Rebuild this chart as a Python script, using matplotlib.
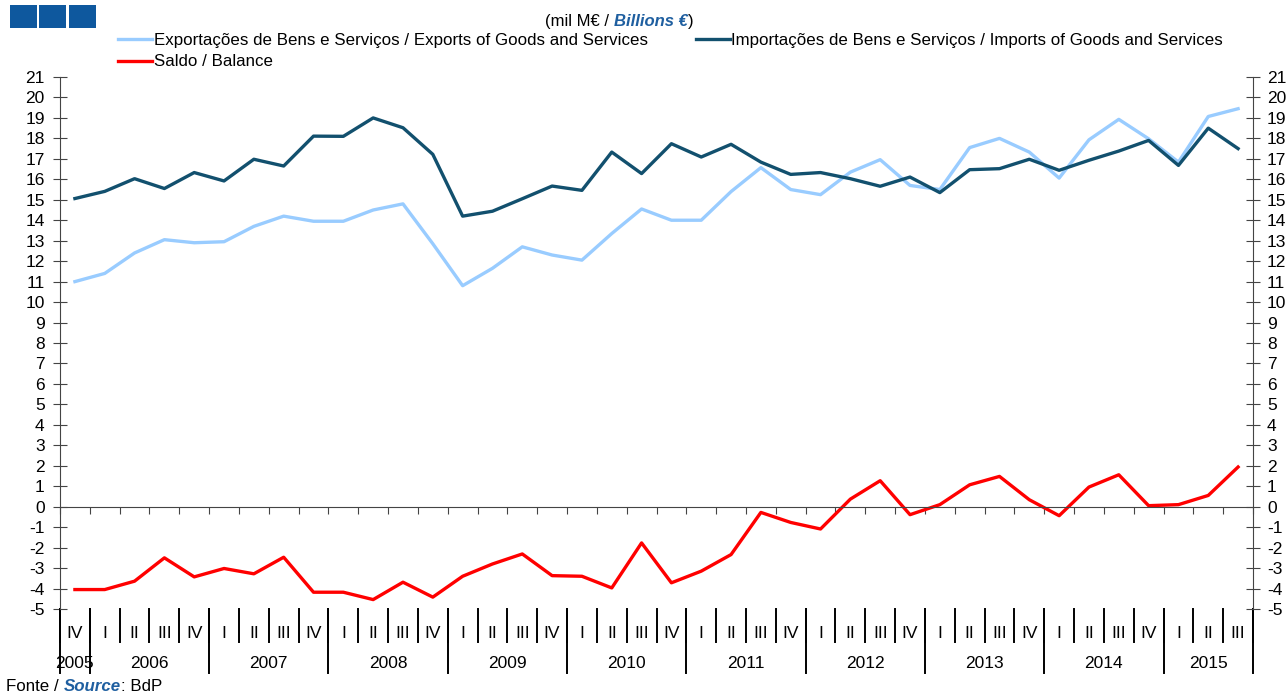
import matplotlib
matplotlib.use("Agg")
import matplotlib.pyplot as plt
import matplotlib.transforms as mtransforms
from matplotlib.patches import Rectangle
import numpy as np

plt.rcParams['font.family'] = ['Liberation Sans', 'DejaVu Sans']
plt.rcParams['axes.unicode_minus'] = False

# quarters 2005 IV .. 2015 III
quarters = ['IV'] + ['I', 'II', 'III', 'IV'] * 9 + ['I', 'II', 'III']
years = ['2005', '2006', '2007', '2008', '2009', '2010',
         '2011', '2012', '2013', '2014', '2015']
year_quarters = [1, 4, 4, 4, 4, 4, 4, 4, 4, 4, 3]

exports = [11.0, 11.4, 12.4, 13.05, 12.9, 12.95, 13.7, 14.2, 13.95, 13.95,
           14.5, 14.8, 12.85, 10.8, 11.65, 12.7, 12.3, 12.05, 13.35, 14.55,
           14.0, 14.0, 15.4, 16.57, 15.5, 15.25, 16.35, 16.96, 15.7, 15.5,
           17.55, 18.0, 17.33, 16.06, 17.93, 18.93, 17.98, 16.84, 19.07, 19.45]
imports = [15.06, 15.41, 16.03, 15.55, 16.33, 15.92, 16.98, 16.65, 18.11, 18.1,
           19.0, 18.52, 17.22, 14.2, 14.44, 15.05, 15.67, 15.46, 17.33, 16.28,
           17.74, 17.09, 17.71, 16.84, 16.24, 16.33, 16.03, 15.66, 16.11, 15.35,
           16.47, 16.52, 16.98, 16.44, 16.93, 17.38, 17.9, 16.68, 18.5, 17.5]
balance = [-4.05, -4.05, -3.64, -2.5, -3.43, -3.02, -3.28, -2.47, -4.18, -4.18,
           -4.54, -3.69, -4.42, -3.4, -2.8, -2.31, -3.37, -3.4, -3.97, -1.77,
           -3.72, -3.15, -2.34, -0.28, -0.77, -1.09, 0.37, 1.27, -0.39, 0.1,
           1.07, 1.48, 0.34, -0.44, 0.96, 1.56, 0.05, 0.1, 0.55, 1.94]

W, H = 1288, 695
fig = plt.figure(figsize=(W / 100, H / 100), dpi=100)
left, right, top, bottom = 60, 1253, 77, 609
ax = fig.add_axes([left / W, 1 - bottom / H, (right - left) / W, (bottom - top) / H])
ax_h = bottom - top

x = np.arange(len(quarters))
l_exp, = ax.plot(x, exports, color='#99CCFF', lw=2.4,
                 label='Exportações de Bens e Serviços / Exports of Goods and Services')
l_imp, = ax.plot(x, imports, color='#12506E', lw=2.4,
                 label='Importações de Bens e Serviços / Imports of Goods and Services')
l_bal, = ax.plot(x, balance, color='#FF0000', lw=2.4, label='Saldo / Balance')

ax.set_xlim(-0.5, len(quarters) - 0.5)
ax.set_ylim(-5, 21)
ax.set_yticks(range(-5, 22))
ax.set_xticks(np.arange(-0.5, len(quarters), 1))
ax.spines['top'].set_visible(False)
ax.spines['right'].set_visible(False)
ax.spines['bottom'].set_position(('data', 0))
for s in ['left', 'bottom']:
    ax.spines[s].set_color('#444444')
ax.tick_params(axis='x', direction='out', length=5, color='#444444', labelbottom=False)
ax.tick_params(axis='y', direction='inout', length=10, color='#444444',
               labelsize=12.5, pad=6)

ax2 = ax.twinx()
ax2.set_ylim(-5, 21)
ax2.set_yticks(range(-5, 22))
for s in ['top', 'bottom', 'left']:
    ax2.spines[s].set_visible(False)
ax2.spines['right'].set_color('#444444')
ax2.tick_params(axis='y', direction='inout', length=10, color='#444444',
                labelsize=12.5, pad=5)

# category axis below the plot
trans = mtransforms.blended_transform_factory(ax.transData, ax.transAxes)
q_y = -(633 - bottom) / ax_h
y_y = -(663 - bottom) / ax_h
q_line = -(642 - bottom) / ax_h
y_line = -(673 - bottom) / ax_h
for i, q in enumerate(quarters):
    ax.text(i, q_y, q, transform=trans, ha='center', va='center', fontsize=12.5)
for b in np.arange(-0.5, len(quarters), 1):
    ax.plot([b, b], [0, q_line], transform=trans, clip_on=False, color='black', lw=1.4)
start = 0
for yr, n in zip(years, year_quarters):
    ax.text(start + n / 2 - 0.5, y_y, yr, transform=trans, ha='center', va='center',
            fontsize=12.5)
    ax.plot([start - 0.5, start - 0.5], [0, y_line], transform=trans, clip_on=False,
            color='black', lw=1.4)
    start += n
ax.plot([start - 0.5, start - 0.5], [0, y_line], transform=trans, clip_on=False,
        color='black', lw=1.4)

# logo
for x0 in [10, 39, 69]:
    fig.patches.append(Rectangle((x0 / W, 1 - 28 / H), 27 / W, 23 / H, lw=0,
                                 transform=fig.transFigure, facecolor='#0E589E'))

# unit
t1 = fig.text(545 / W, 1 - 29 / H, '(mil M€ / ', fontsize=12, va='bottom')
t2 = fig.text(0, 0, 'Billions €', fontsize=12, fontweight='bold', style='italic',
              color='#1F5FA0', va='bottom')
t3 = fig.text(0, 0, ')', fontsize=12, va='bottom')

fig.legend(handles=[l_exp, l_bal, l_imp], ncol=2, loc='upper left',
           bbox_to_anchor=(118 / W, 1 - 33 / H), frameon=False, fontsize=12.2,
           handlelength=2.0, handletextpad=0.1, columnspacing=2.85,
           labelspacing=0.38, borderpad=0, borderaxespad=0)

s1 = fig.text(6 / W, 1 - 694 / H, 'Fonte / ', fontsize=12.2, va='bottom')
s2 = fig.text(0, 0, 'Source', fontsize=12.2, fontweight='bold', style='italic',
              color='#1F5FA0', va='bottom')
s3 = fig.text(0, 0, ': BdP', fontsize=12.2, va='bottom')

# chain the mixed-style text pieces
fig.canvas.draw()
r = fig.canvas.get_renderer()
for a, b in [(t1, t2), (t2, t3), (s1, s2), (s2, s3)]:
    bb = a.get_window_extent(r)
    b.set_position((bb.x1 / W, a.get_position()[1]))
    fig.canvas.draw()

fig.savefig('out.png', dpi=100)
